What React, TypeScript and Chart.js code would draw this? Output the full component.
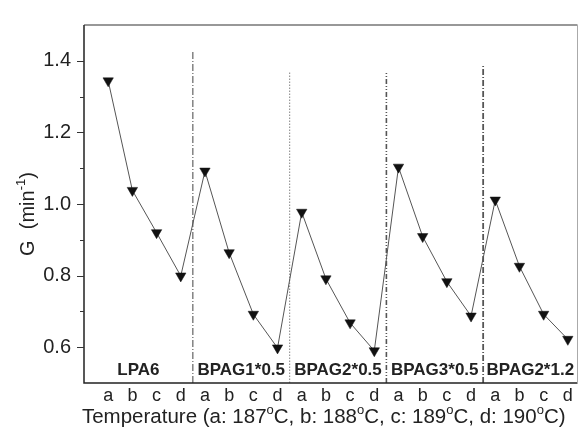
import React, { useEffect, useRef } from 'react';
import { Chart, registerables } from 'chart.js';
Chart.register(...registerables);

const xLabels = ['a', 'b', 'c', 'd'];
const groupNames = ['LPA6', 'BPAG1*0.5', 'BPAG2*0.5', 'BPAG3*0.5', 'BPAG2*1.2'];
const gValues = [
  1.344, 1.038, 0.92, 0.799,
  1.092, 0.864, 0.692, 0.598,
  0.977, 0.791, 0.668, 0.59,
  1.103, 0.909, 0.783, 0.687,
  1.011, 0.826, 0.692, 0.622,
];
const separatorX = [4.5, 8.5, 12.5, 16.5];
const separatorTop = [1.43, 1.37, 1.366, 1.387];
const yTickValues = [0.6, 0.8, 1.0, 1.2, 1.4];
const yMinorValues = [0.7, 0.9, 1.1, 1.3];
const xTitleParts = [
  { t: 'Temperature (a: 187' }, { t: 'o', sup: true }, { t: 'C, b: 188' }, { t: 'o', sup: true },
  { t: 'C, c: 189' }, { t: 'o', sup: true }, { t: 'C, d: 190' }, { t: 'o', sup: true }, { t: 'C)' },
];
const yTitleParts = [{ t: 'G  (min' }, { t: '-1', sup: true }, { t: ')' }];

const FONT = '"Liberation Sans", Arial, Helvetica, sans-serif';
const X_MIN = 0;
const X_MAX = 20.4;
const Y_MIN = 0.5;
const Y_MAX = 1.5;

const sepStyles = [
  { color: '#444', width: 1, dash: [7, 2, 1, 2] },
  { color: '#999', width: 1.2, dash: [1.5, 1.5] },
  { color: '#555', width: 1.6, dash: [5, 2, 1, 2, 1, 2] },
  { color: '#555', width: 1.8, dash: [6, 2, 1, 2] },
];

function drawRich(ctx: CanvasRenderingContext2D, parts: any[], size: number) {
  const big = `${size}px ${FONT}`;
  const small = `${Math.round(size * 0.65)}px ${FONT}`;
  let w = 0;
  for (const p of parts) {
    ctx.font = p.sup ? small : big;
    w += ctx.measureText(p.t).width;
  }
  let x = -w / 2;
  for (const p of parts) {
    ctx.font = p.sup ? small : big;
    ctx.fillText(p.t, x, p.sup ? -size * 0.45 : 0);
    x += ctx.measureText(p.t).width;
  }
}

const decorPlugin = {
  id: 'decor',
  afterDraw(chart: any) {
    const ctx = chart.ctx as CanvasRenderingContext2D;
    const { left, right, top, bottom } = chart.chartArea;
    const xs = chart.scales.x;
    const ys = chart.scales.y;
    ctx.save();
    ctx.strokeStyle = '#222';
    ctx.lineWidth = 1.5;
    ctx.beginPath();
    ctx.moveTo(left, top);
    ctx.lineTo(left, bottom);
    ctx.lineTo(right, bottom);
    ctx.stroke();
    ctx.lineWidth = 1.2;
    ctx.strokeStyle = '#333';
    ctx.beginPath();
    ctx.moveTo(left, top);
    ctx.lineTo(right, top);
    ctx.stroke();
    ctx.strokeStyle = '#aaa';
    ctx.lineWidth = 1;
    ctx.beginPath();
    ctx.moveTo(right, top);
    ctx.lineTo(right, bottom);
    ctx.stroke();
    ctx.strokeStyle = '#333';
    ctx.lineWidth = 1;
    for (const v of yTickValues) {
      const y = Math.round(ys.getPixelForValue(v)) + 0.5;
      ctx.beginPath();
      ctx.moveTo(left - 7, y);
      ctx.lineTo(left, y);
      ctx.stroke();
    }
    for (const v of yMinorValues) {
      const y = Math.round(ys.getPixelForValue(v)) + 0.5;
      ctx.beginPath();
      ctx.moveTo(left - 4, y);
      ctx.lineTo(left, y);
      ctx.stroke();
    }
    const bounds = [X_MIN, ...separatorX, X_MAX];
    ctx.fillStyle = '#222';
    ctx.font = `bold 17px ${FONT}`;
    ctx.textAlign = 'center';
    ctx.textBaseline = 'alphabetic';
    groupNames.forEach((name, i) => {
      const cx = xs.getPixelForValue((bounds[i] + bounds[i + 1]) / 2);
      ctx.fillText(name, cx, 375);
    });
    ctx.textAlign = 'left';
    ctx.save();
    ctx.translate((left + right) / 2 - 7, 423);
    drawRich(ctx, xTitleParts, 20.5);
    ctx.restore();
    ctx.save();
    ctx.translate(34, 214);
    ctx.rotate(-Math.PI / 2);
    drawRich(ctx, yTitleParts, 20);
    ctx.restore();
    ctx.restore();
  },
};

export default function App() {
  const ref = useRef<HTMLCanvasElement>(null);
  useEffect(() => {
    const canvas = ref.current;
    if (!canvas) return;
    const sepDatasets = separatorX.map((x, i) => ({
      data: [{ x, y: Y_MIN }, { x, y: separatorTop[i] }],
      borderColor: sepStyles[i].color,
      borderWidth: sepStyles[i].width,
      borderDash: sepStyles[i].dash,
      pointRadius: 0,
      fill: false,
    }));
    const chart = new Chart(canvas, {
      type: 'line',
      data: {
        datasets: [
          {
            data: gValues.map((v, i) => ({ x: i + 1, y: v })),
            borderColor: '#555',
            borderWidth: 1,
            pointStyle: 'triangle',
            rotation: 180,
            pointRadius: 6,
            pointBackgroundColor: '#111',
            pointBorderColor: '#111',
            pointBorderWidth: 0.5,
            fill: false,
          } as any,
          ...(sepDatasets as any[]),
        ],
      },
      options: {
        animation: false,
        responsive: false,
        layout: { padding: { top: 12, right: 2, left: 0, bottom: 0 } },
        plugins: { legend: { display: false }, tooltip: { enabled: false } },
        scales: {
          x: {
            type: 'linear',
            min: X_MIN,
            max: X_MAX,
            grid: { display: false, drawTicks: false },
            border: { display: false },
            afterBuildTicks: (s: any) => {
              s.ticks = gValues.map((_, i) => ({ value: i + 1 }));
            },
            afterFit: (s: any) => {
              s.height = 48;
            },
            ticks: {
              autoSkip: false,
              maxRotation: 0,
              padding: 2,
              color: '#222',
              font: { family: FONT, size: 18 },
              callback: (v: any) => xLabels[(Math.round(v) - 1) % 4],
            },
          },
          y: {
            type: 'linear',
            min: Y_MIN,
            max: Y_MAX,
            grid: { display: false, drawTicks: false },
            border: { display: false },
            afterBuildTicks: (s: any) => {
              s.ticks = yTickValues.map((v) => ({ value: v }));
            },
            afterFit: (s: any) => {
              s.width = 84;
            },
            ticks: {
              padding: 13,
              color: '#222',
              font: { family: FONT, size: 20 },
              callback: (v: any) => Number(v).toFixed(1),
            },
          },
        },
      } as any,
      plugins: [decorPlugin],
    });
    return () => chart.destroy();
  }, []);
  return (
    <div style={{ position: 'fixed', left: 0, top: 0, width: 584, height: 431, background: '#fff' }}>
      <canvas ref={ref} width={584} height={431} />
    </div>
  );
}
